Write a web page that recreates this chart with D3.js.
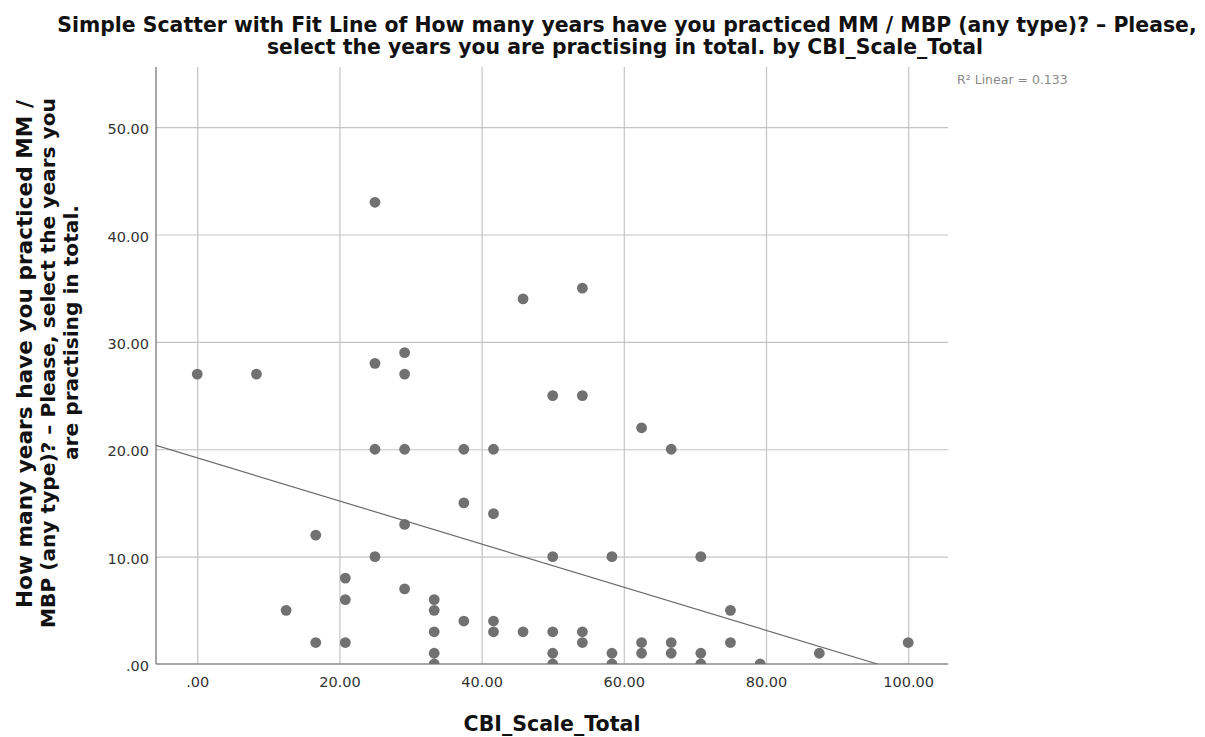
<!DOCTYPE html>
<html>
<head>
<meta charset="utf-8">
<script src="https://cdn.jsdelivr.net/npm/d3@7"></script>
<style>
  html, body { margin: 0; padding: 0; background: #fff; }
  svg { display: block; }
</style>
</head>
<body>
<svg id="chart" width="1205" height="737"></svg>
<script>
// ---- data ----
const cbiScale = [
  0, 8.33, 12.5,
  16.67, 16.67,
  20.83, 20.83, 20.83,
  25, 25, 25, 25,
  29.17, 29.17, 29.17, 29.17, 29.17,
  33.33, 33.33, 33.33, 33.33, 33.33,
  37.5, 37.5, 37.5,
  41.67, 41.67, 41.67, 41.67,
  45.83, 45.83,
  50, 50, 50, 50, 50,
  54.17, 54.17, 54.17, 54.17,
  58.33, 58.33, 58.33,
  62.5, 62.5, 62.5,
  66.67, 66.67, 66.67,
  70.83, 70.83, 70.83,
  75, 75,
  79.17, 87.5, 100
];
const yearsPracticed = [
  27, 27, 5,
  12, 2,
  8, 6, 2,
  43, 28, 20, 10,
  29, 27, 20, 13, 7,
  6, 5, 3, 1, 0,
  20, 15, 4,
  20, 14, 4, 3,
  34, 3,
  25, 10, 3, 1, 0,
  35, 25, 3, 2,
  10, 1, 0,
  22, 2, 1,
  20, 2, 1,
  10, 1, 0,
  5, 2,
  0, 1, 2
];
const xTicks = [0, 20, 40, 60, 80, 100];
const yTicks = [0, 10, 20, 30, 40, 50];
const fitIntercept = 19.2;
const fitSlope = -0.2007;
const rSquaredLabel = "R\u00B2 Linear = 0.133";
const titleLines = [
  "Simple Scatter with Fit Line of How many years have you practiced MM / MBP (any type)? \u2013 Please,",
  "select the years you are practising in total. by CBI_Scale_Total"
];
const yTitleLines = [
  "How many years have you practiced MM /",
  "MBP (any type)? \u2013 Please, select the years you",
  "are practising in total."
];
const xTitle = "CBI_Scale_Total";

// ---- layout ----
const svg = d3.select("#chart");
const plot = { left: 156, right: 948, top: 67, bottom: 664 };
const x = d3.scaleLinear().domain([-5.8, 105.6]).range([plot.left, plot.right]);
const y = d3.scaleLinear().domain([0, 55.6]).range([plot.bottom, plot.top]);
const fmt = v => (v === 0 ? ".00" : d3.format(".2f")(v));
const fontMain = "'DejaVu Sans', 'Liberation Sans', sans-serif";

svg.append("defs").append("clipPath").attr("id", "plotClip")
  .append("rect")
  .attr("x", plot.left).attr("y", plot.top)
  .attr("width", plot.right - plot.left).attr("height", plot.bottom - plot.top);

// gridlines
svg.append("g")
  .attr("transform", `translate(0,${plot.bottom})`)
  .call(d3.axisBottom(x).tickValues(xTicks).tickSize(-(plot.bottom - plot.top)).tickFormat(""))
  .call(g => g.select(".domain").remove())
  .call(g => g.selectAll("line").attr("stroke", "#c4c4c4").attr("stroke-width", 1.2));
svg.append("g")
  .attr("transform", `translate(${plot.left},0)`)
  .call(d3.axisLeft(y).tickValues(yTicks.filter(d => d > 0)).tickSize(-(plot.right - plot.left)).tickFormat(""))
  .call(g => g.select(".domain").remove())
  .call(g => g.selectAll("line").attr("stroke", "#c4c4c4").attr("stroke-width", 1.2));

// axes with labels
const xAxis = svg.append("g")
  .attr("transform", `translate(0,${plot.bottom})`)
  .call(d3.axisBottom(x).tickValues(xTicks).tickSize(0).tickPadding(13).tickFormat(fmt));
xAxis.select(".domain").remove();
xAxis.selectAll("text").attr("font-family", fontMain).attr("font-size", 14.5).attr("fill", "#333");

const yAxis = svg.append("g")
  .attr("transform", `translate(${plot.left},0)`)
  .call(d3.axisLeft(y).tickValues(yTicks).tickSize(0).tickPadding(7).tickFormat(fmt));
yAxis.select(".domain").remove();
yAxis.selectAll("text").attr("font-family", fontMain).attr("font-size", 14.5).attr("fill", "#333")
  .attr("dy", "0.45em");

// axis lines
svg.append("line").attr("x1", plot.left).attr("x2", plot.left)
  .attr("y1", plot.top).attr("y2", plot.bottom)
  .attr("stroke", "#8a8a8a").attr("stroke-width", 1.5);
svg.append("line").attr("x1", plot.left).attr("x2", plot.right)
  .attr("y1", plot.bottom).attr("y2", plot.bottom)
  .attr("stroke", "#8a8a8a").attr("stroke-width", 1.5);

// points
const pts = d3.range(cbiScale.length).map(i => ({ x: cbiScale[i], y: yearsPracticed[i] }));
svg.append("g").attr("clip-path", "url(#plotClip)")
  .selectAll("circle").data(pts).join("circle")
  .attr("cx", d => x(d.x)).attr("cy", d => y(d.y)).attr("r", 5.4)
  .attr("fill", "#717171");

// fit line (clipped to plot)
const x0 = x.domain()[0];
const x1 = -fitIntercept / fitSlope;
svg.append("line").attr("clip-path", "url(#plotClip)")
  .attr("x1", x(x0)).attr("y1", y(fitIntercept + fitSlope * x0))
  .attr("x2", x(x1)).attr("y2", y(fitIntercept + fitSlope * x1))
  .attr("stroke", "#6a6a6a").attr("stroke-width", 1.2);

// R² label
svg.append("text").attr("x", 957).attr("y", 84)
  .attr("font-family", fontMain).attr("font-size", 12.5).attr("fill", "#8a8a8a")
  .text(rSquaredLabel);

// title: one text element with two tspans, font size fitted to line 1 width
const title = svg.append("text")
  .attr("text-anchor", "middle").attr("font-family", fontMain)
  .attr("font-weight", "bold").attr("font-size", 20).attr("fill", "#111");
const tY = [32, 53.5];
const tCx = [627, 625];
const tspans = titleLines.map((t, i) =>
  title.append("tspan").attr("x", tCx[i]).attr("y", tY[i]).text(t));
{
  const w = tspans[0].node().getComputedTextLength();
  title.attr("font-size", (20 * 1140 / w).toFixed(2));
}

// y title: one rotated text element with three tspans, each fitted to its length
const yTitle = svg.append("text")
  .attr("transform", "rotate(-90)")
  .attr("text-anchor", "start").attr("font-family", fontMain)
  .attr("font-weight", "bold").attr("font-size", 20).attr("fill", "#111");
const yLx = [32, 55, 78];          // baseline x positions
const yLstart = [608, 628, 460];   // bottom start y positions
const yLlen = [508, 530, 255];     // lengths along the axis
yTitleLines.forEach((t, i) => {
  const s = yTitle.append("tspan").attr("x", -yLstart[i]).attr("y", yLx[i])
    .attr("font-size", 20).text(t);
  const w = s.node().getComputedTextLength();
  s.attr("font-size", (20 * yLlen[i] / w).toFixed(2));
});

// x title
const xt = svg.append("text").attr("x", 552).attr("y", 731)
  .attr("text-anchor", "middle").attr("font-family", fontMain)
  .attr("font-weight", "bold").attr("font-size", 20).attr("fill", "#111")
  .text(xTitle);
{
  const w = xt.node().getComputedTextLength();
  xt.attr("font-size", (20 * 177 / w).toFixed(2));
}
</script>
</body>
</html>
